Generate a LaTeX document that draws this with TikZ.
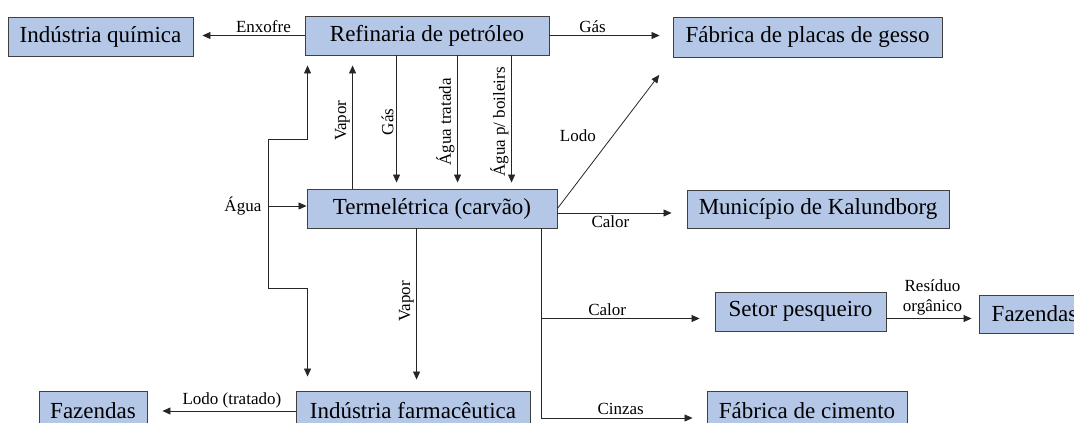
\documentclass[tikz,border=0pt]{standalone}
\usepackage{fontspec}
\setmainfont{Liberation Serif}
\usepackage{tikz}
\usetikzlibrary{arrows.meta}
\definecolor{boxblue}{RGB}{180,199,231}
\definecolor{boxline}{RGB}{64,64,64}
\tikzset{x=1pt, y=-1pt}

\begin{document}
\begin{tikzpicture}
\tikzstyle{box} = [draw=boxline, line width=0.9pt, fill=boxblue, inner sep=0pt, font=\fontsize{23}{27}\selectfont]
\tikzstyle{flow} = [draw=black!85, line width=0.8pt, -{Triangle[length=8pt,width=7pt]}]
\tikzstyle{lbl} = [font=\fontsize{17}{20}\selectfont, inner sep=2.5pt]
\useasboundingbox (0,0) rectangle (1074,423);
% boxes
\node[box, minimum width=185, minimum height=39] (quimica) at (100.5,36.5) {Indústria química};
\node[box, minimum width=244, minimum height=39] (refinaria) at (427,35.5) {Refinaria de petróleo};
\node[box, minimum width=269, minimum height=40] (gesso) at (807.5,37) {Fábrica de placas de gesso};
\node[box, minimum width=250, minimum height=39] (termo) at (432,208.5) {Termelétrica (carvão)};
\node[box, minimum width=262, minimum height=38] (municipio) at (818,209) {Município de Kalundborg};
\node[box, minimum width=171, minimum height=39] (pesqueiro) at (800.5,311.5) {Setor pesqueiro};
\node[box, minimum width=111, minimum height=38] (fazR) at (1034.5,314) {Fazendas};
\node[box, minimum width=200, minimum height=40] (cimento) at (807,411) {Fábrica de cimento};
\node[box, minimum width=234, minimum height=40] (farma) at (413,411) {Indústria farmacêutica};
\node[box, minimum width=108, minimum height=40] (fazL) at (93,411) {Fazendas};
% refinaria
\draw[flow, shorten >=9pt] (refinaria.west) -- (refinaria.west -| quimica.east) node[lbl, pos=0.37, above] {Enxofre};
\draw[flow, shorten >=13pt] (refinaria.east) -- (refinaria.east -| gesso.west) node[lbl, pos=0.35, above] {Gás};
\foreach \dx/\txt in {92/Gás, 153/{Água tratada}, 207/{Água p/ boileirs}} {
  \coordinate (s) at ([xshift=\dx pt]refinaria.south west);
  \draw[flow, shorten >=6pt] (s) -- (s |- termo.north) node[lbl, midway, rotate=90, anchor=south] {\txt};
}
\coordinate (vu) at ([xshift=46pt]termo.north west);
\draw[flow, shorten >=10pt] (vu) -- (vu |- refinaria.south) node[lbl, pos=0.51, rotate=90, anchor=south] {Vapor};
% agua
\coordinate (agua) at (268,206);
\coordinate (ua) at ([xshift=3pt]refinaria.south west);
\coordinate (da) at ([xshift=12pt]farma.north west);
\draw[flow] (agua) -- (agua -| termo.west);
\draw[flow, shorten >=10pt] (agua) -- ++(0,-67) -| (ua);
\draw[flow, shorten >=14pt] (agua) -- ++(0,82) -| (da);
\node[lbl, left=4pt] (agualbl) at (agua) {Água};
% termeletrica
\draw[flow, shorten >=22pt] (termo.east) -- (gesso.south west) node[lbl, pos=0.48, left, xshift=-14pt] {Lodo};
\coordinate (ce) at ([yshift=-4.5pt]termo.east);
\draw[flow, shorten >=15pt] (ce) -- (ce -| municipio.west) node[lbl, pos=0.41, below] {Calor};
\coordinate (tap) at ([xshift=-16pt]termo.south east);
\coordinate (pin) at ([yshift=-7pt]pesqueiro.west);
\coordinate (cin) at ([yshift=-7pt]cimento.west);
\draw[flow, shorten >=14pt] (tap) |- (cin) node[lbl, pos=0.74, above] {Cinzas};
\draw[flow, shorten >=15pt] (tap |- pin) -- (pin) node[lbl, pos=0.38, above] {Calor};
\coordinate (vd) at ([xshift=110pt]termo.south west);
\draw[flow, shorten >=11pt] (vd) -- (vd |- farma.north) node[lbl, pos=0.45, rotate=90, anchor=south] {Vapor};
% pesqueiro, farmaceutica
\coordinate (rin) at ([yshift=-7pt]pesqueiro.east);
\draw[flow, shorten >=7pt] (rin) -- (rin -| fazR.west) node[lbl, midway, above, align=center] {Resíduo\\orgânico};
\draw[flow, shorten >=15pt] (farma.west) -- (farma.west -| fazL.east) node[lbl, pos=0.43, above] {Lodo (tratado)};
\end{tikzpicture}
\end{document}
